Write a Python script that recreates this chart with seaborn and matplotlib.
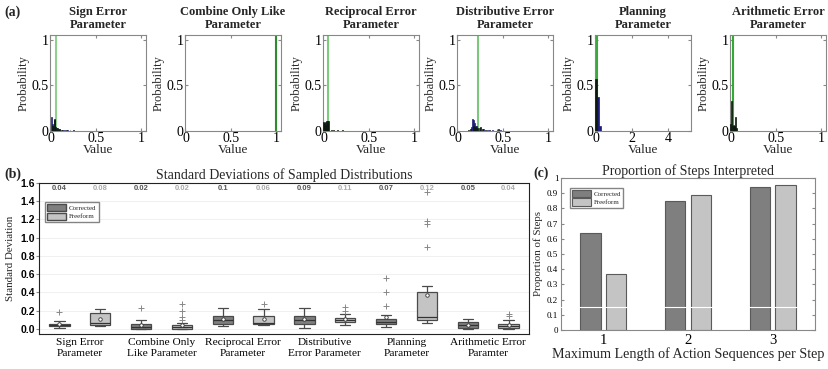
import numpy as np
import pandas as pd
import seaborn as sns
from matplotlib import pyplot as plt
from matplotlib.patches import Patch

# ---- (a) posterior histograms of the six parameters ----
hist_titles = ["Sign Error\nParameter", "Combine Only Like\nParameter", "Reciprocal Error\nParameter",
               "Distributive Error\nParameter", "Planning\nParameter", "Arithmetic Error\nParameter"]
true_values = [0.06, 1.0, 0.045, 0.23, 0.06, 0.026]
hist_binwidth = [0.01, 0.01, 0.01, 0.01, 0.1, 0.01]

corrected_centers = [
    [0.015, 0.025, 0.035, 0.045, 0.065, 0.085, 0.105, 0.125, 0.155, 0.185],
    [],
    [0.005, 0.015, 0.025, 0.035, 0.045],
    [0.155, 0.165, 0.175, 0.185, 0.195, 0.205, 0.215, 0.245, 0.285, 0.335, 0.385, 0.435, 0.475],
    [0.15, 0.25],
    [0.025, 0.035, 0.045],
]
corrected_probs = [
    [0.15, 0.08, 0.06, 0.12, 0.03, 0.02, 0.02, 0.015, 0.01, 0.008],
    [],
    [0.08, 0.06, 0.1, 0.05, 0.11],
    [0.04, 0.13, 0.12, 0.09, 0.06, 0.05, 0.04, 0.03, 0.02, 0.015, 0.01, 0.02, 0.01],
    [0.37, 0.06],
    [0.05, 0.07, 0.04],
]
freeform_centers = [
    [0.025, 0.045, 0.055, 0.075, 0.095, 0.135, 0.175, 0.215, 0.255],
    [],
    [0.005, 0.015, 0.025, 0.035, 0.045, 0.055, 0.085, 0.115, 0.155, 0.205, 0.245],
    [0.125, 0.145, 0.175, 0.195, 0.225, 0.255, 0.275, 0.305, 0.355, 0.455],
    [0.05],
    [0.005, 0.015, 0.035, 0.045, 0.055, 0.065],
]
freeform_probs = [
    [0.05, 0.13, 0.04, 0.03, 0.02, 0.015, 0.01, 0.01, 0.008],
    [],
    [0.1, 0.09, 0.07, 0.11, 0.08, 0.11, 0.015, 0.01, 0.008, 0.006, 0.005],
    [0.01, 0.02, 0.05, 0.04, 0.03, 0.04, 0.02, 0.015, 0.01, 0.02],
    [0.57],
    [0.08, 0.33, 0.06, 0.05, 0.15, 0.03],
]

# ---- (b) standard deviations of sampled distributions ----
params = ["Sign Error\nParameter", "Combine Only\nLike Parameter", "Reciprocal Error\nParameter",
          "Distributive\nError Parameter", "Planning\nParameter", "Arithmetic Error\nParamter"]
groups = ["Corrected", "Freeform"]
sd_corrected = [
    [0.01, 0.02, 0.025, 0.03, 0.035, 0.04, 0.045, 0.05, 0.055, 0.06, 0.07, 0.09, 0.19],
    [0.0, 0.0, 0.003, 0.005, 0.01, 0.015, 0.02, 0.03, 0.04, 0.05, 0.07, 0.1, 0.23],
    [0.03, 0.04, 0.045, 0.05, 0.07, 0.09, 0.1, 0.11, 0.12, 0.14, 0.17, 0.2, 0.23],
    [0.01, 0.03, 0.04, 0.05, 0.07, 0.09, 0.1, 0.11, 0.13, 0.145, 0.17, 0.2, 0.23],
    [0.02, 0.03, 0.04, 0.045, 0.05, 0.06, 0.065, 0.07, 0.08, 0.09, 0.095, 0.1, 0.11, 0.15, 0.25, 0.4, 0.56],
    [0.005, 0.008, 0.01, 0.015, 0.02, 0.03, 0.04, 0.05, 0.06, 0.075, 0.085, 0.1, 0.11],
]
sd_freeform = [
    [0.03, 0.035, 0.04, 0.045, 0.05, 0.06, 0.07, 0.1, 0.14, 0.17, 0.19, 0.21, 0.22],
    [0.0, 0.001, 0.002, 0.003, 0.004, 0.005, 0.008, 0.01, 0.013, 0.016, 0.02, 0.024, 0.028,
     0.032, 0.036, 0.04, 0.07, 0.1, 0.13, 0.2, 0.27],
    [0.045, 0.05, 0.055, 0.06, 0.062, 0.064, 0.065, 0.08, 0.11, 0.14, 0.17, 0.22, 0.27],
    [0.04, 0.06, 0.07, 0.075, 0.085, 0.095, 0.1, 0.105, 0.112, 0.12, 0.16, 0.2, 0.24],
    [0.07, 0.08, 0.085, 0.09, 0.095, 0.1, 0.105, 0.11, 0.115, 0.12, 0.13, 0.18, 0.25, 0.3, 0.36,
     0.41, 0.47, 0.9, 1.15, 1.18, 1.5],
    [0.0, 0.003, 0.006, 0.01, 0.015, 0.02, 0.03, 0.04, 0.05, 0.06, 0.1, 0.14, 0.16],
]
top_labels = ["0.04", "0.08", "0.02", "0.02", "0.1", "0.06", "0.09", "0.11", "0.07", "0.12", "0.05", "0.04"]

# ---- (c) proportion of steps interpreted ----
max_lengths = ["1", "2", "3"]
prop_corrected = [0.64, 0.85, 0.94]
prop_freeform = [0.37, 0.89, 0.955]

# ---------------------------------------------------------------------------
sns.set_style("ticks")
plt.rcParams["font.family"] = ["Liberation Serif", "DejaVu Serif"]
plt.rcParams["axes.edgecolor"] = "#888888"
plt.rcParams["xtick.color"] = "#888888"
plt.rcParams["ytick.color"] = "#888888"
plt.rcParams["xtick.labelcolor"] = "black"
plt.rcParams["ytick.labelcolor"] = "black"

W, H = 829, 369
fig = plt.figure(figsize=(W / 100, H / 100), dpi=100)


def px_axes(left, top, right, bottom):
    return fig.add_axes([left / W, 1 - bottom / H, (right - left) / W, (bottom - top) / H])


navy = "#1c1c78"
dark = "#0c1a0c"
line_colors = ["#8fd08f", "#2e8b2e", "#7ccc7c", "#7cc87c", "#3aaa3a", "#33aa33"]
lefts = [50, 185, 323, 457, 595, 730]

for i in range(6):
    ax = px_axes(lefts[i], 35, lefts[i] + 96, 131)
    bw = hist_binwidth[i]
    xmax = 5 if bw > 0.01 else 1
    ax.axvline(true_values[i], color=line_colors[i], lw=1.5, zorder=1)
    if corrected_centers[i]:
        sns.histplot(x=corrected_centers[i], weights=corrected_probs[i], binwidth=bw,
                     binrange=(0, xmax), color=navy, alpha=1, linewidth=0.5,
                     edgecolor=navy, ax=ax, zorder=2)
    if freeform_centers[i]:
        sns.histplot(x=freeform_centers[i], weights=freeform_probs[i], binwidth=bw,
                     binrange=(0, xmax), color=dark, alpha=1, linewidth=0.5,
                     edgecolor=dark, ax=ax, zorder=3)
    ax.set_xlim(-0.005 * xmax, 1.05 * xmax)
    ax.set_ylim(0, 1.05)
    ax.set_yticks([0, 0.5, 1])
    ax.set_yticklabels(["0", "0.5", "1"])
    if xmax == 5:
        ax.set_xticks([0, 2, 4])
        ax.set_xticklabels(["0", "2", "4"])
    else:
        ax.set_xticks([0, 0.5, 1])
        ax.set_xticklabels(["0", "0.5", "1"])
    ax.tick_params(direction="in", length=2, labelsize=10, pad=1, top=True, right=True)
    for s in ax.spines.values():
        s.set_visible(True)
        s.set_linewidth(0.8)
    ax.set_title(hist_titles[i], fontsize=9, fontweight="bold", pad=5, linespacing=1.1)
    ax.set_ylabel("Probability", fontsize=9, labelpad=1)
    ax.set_xlabel("Value", fontsize=9.5, labelpad=-1)

fig.text(4 / W, 1 - 12 / H, "(a)", fontsize=10, fontweight="bold", va="center")

# ---- (b) box plot ----
rows = []
for p, vals in zip(params, sd_corrected):
    for v in vals:
        rows.append((p, "Corrected", v))
for p, vals in zip(params, sd_freeform):
    for v in vals:
        rows.append((p, "Freeform", v))
sd_df = pd.DataFrame(rows, columns=["param", "group", "sd"])

axb = px_axes(39, 183, 529, 334)
for y in np.arange(0, 1.7, 0.2):
    axb.axhline(y, color="#eeeeee", lw=0.6, zorder=0)
sns.boxplot(data=sd_df, x="param", y="sd", hue="group", order=params, hue_order=groups,
            palette=["#7f7f7f", "#c4c4c4"], width=1.0, gap=0.5, linewidth=0.9,
            linecolor="#4a4a4a", showmeans=True,
            meanprops=dict(marker="o", markerfacecolor="white", markeredgecolor="#333333",
                           markersize=2.5, markeredgewidth=0.6),
            flierprops=dict(marker="+", markeredgecolor="#888888", markersize=4, markeredgewidth=0.7),
            medianprops=dict(color="#333333", linewidth=0.9),
            ax=axb)
axb.set_xlim(-0.5, 5.5)
axb.set_ylim(-0.055, 1.6)
axb.set_yticks(np.arange(0, 1.61, 0.2))
axb.set_yticklabels([f"{v:.1f}" for v in np.arange(0, 1.61, 0.2)], family="Liberation Sans",
                    fontweight="bold", fontsize=7.5)
axb.tick_params(axis="x", length=0, labelsize=8.2, pad=3)
axb.tick_params(axis="y", length=2, pad=1)
for s in axb.spines.values():
    s.set_visible(True)
    s.set_color("#222222")
axb.set_xlabel("")
axb.set_ylabel("Standard Deviation", fontsize=7.8, labelpad=4)
axb.set_title("Standard Deviations of Sampled Distributions", fontsize=10, pad=3)
for k, t in enumerate(top_labels):
    axb.text(k // 2 + (-0.25 if k % 2 == 0 else 0.25), 1.535, t, ha="center", va="center",
             fontsize=5.5, family="Liberation Sans", fontweight="bold",
             color="#555555" if k % 2 == 0 else "#aaaaaa")
axb.legend(handles=[Patch(facecolor="#7f7f7f", edgecolor="#4a4a4a", label="Corrected"),
                    Patch(facecolor="#c4c4c4", edgecolor="#4a4a4a", label="Freeform")],
           loc="upper left", bbox_to_anchor=(0.005, 0.9), fontsize=5, handlelength=2.8,
           handleheight=1.2, frameon=True, fancybox=False, edgecolor="#666666",
           borderpad=0.3, labelspacing=0.25, handletextpad=0.4)
fig.text(4 / W, 1 - 174 / H, "(b)", fontsize=10, fontweight="bold", va="center")

# ---- (c) bar chart ----
bar_df = pd.DataFrame({
    "length": max_lengths * 2,
    "group": ["Corrected"] * 3 + ["Freeform"] * 3,
    "prop": prop_corrected + prop_freeform,
})
axc = px_axes(561, 178, 815, 330)
sns.barplot(data=bar_df, x="length", y="prop", hue="group", hue_order=groups,
            palette=["#7f7f7f", "#c4c4c4"], width=0.6, gap=0.2, edgecolor="#5a5a5a",
            linewidth=0.8, saturation=1, ax=axc)
axc.axhline(0.15, color="white", lw=0.8, zorder=5)
axc.set_xlim(-0.5, 2.5)
axc.set_ylim(0, 1)
axc.set_yticks(np.arange(0, 1.01, 0.1))
axc.set_yticklabels(["0"] + [f"{v:.1f}" for v in np.arange(0.1, 0.95, 0.1)] + ["1"])
axc.tick_params(axis="y", direction="in", length=2, labelsize=6.5, pad=2, right=True)
axc.tick_params(axis="x", direction="in", length=0, labelsize=10.5, pad=3)
for s in axc.spines.values():
    s.set_visible(True)
    s.set_linewidth(0.8)
axc.set_xlabel("Maximum Length of Action Sequences per Step", fontsize=10.2, labelpad=0)
axc.set_ylabel("Proportion of Steps", fontsize=7.8, labelpad=3)
axc.set_title("Proportion of Steps Interpreted", fontsize=10, pad=2)
axc.legend(loc="upper left", bbox_to_anchor=(0.02, 0.96), fontsize=5, handlelength=2.8,
           handleheight=1.2, frameon=True, fancybox=False, edgecolor="#666666",
           borderpad=0.3, labelspacing=0.25, handletextpad=0.4, title=None)
fig.text(533 / W, 1 - 173 / H, "(c)", fontsize=10, fontweight="bold", va="center")

fig.savefig("out.png", dpi=100)
